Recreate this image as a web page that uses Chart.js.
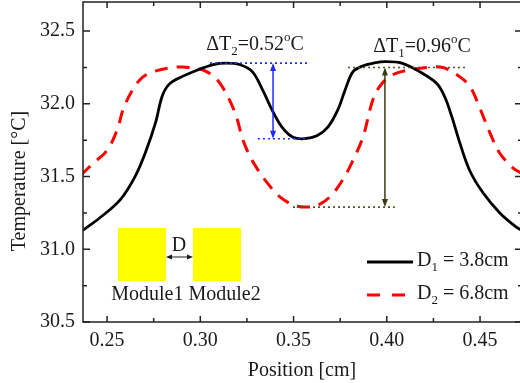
<!DOCTYPE html>
<html>
<head>
<meta charset="utf-8">
<script src="https://cdn.jsdelivr.net/npm/chart.js@4.4.1/dist/chart.umd.min.js"></script>
<style>
html, body { margin: 0; padding: 0; background: #fff; overflow: hidden; }
#wrap { width: 520px; height: 383px; overflow: hidden; }
canvas { display: block; }
</style>
</head>
<body>
<div id="wrap"><canvas id="temp-chart" width="524" height="383"></canvas></div>
<script>
// temperature profile along the position axis for two module spacings
const posD1 = [0.237, 0.246, 0.257, 0.265, 0.271, 0.276, 0.2795, 0.283, 0.289, 0.298, 0.307, 0.314, 0.321, 0.328,
    0.3336, 0.3384, 0.3438, 0.3497, 0.356, 0.3625, 0.3684, 0.3738, 0.3775, 0.3818, 0.387, 0.393, 0.399, 0.408,
    0.4177, 0.4268, 0.431, 0.4349, 0.4392, 0.4445, 0.4515, 0.4606, 0.4697, 0.4725]
const tempD1 = [31.13, 31.215, 31.34, 31.50, 31.68, 31.87, 32.05, 32.13, 32.18, 32.23, 32.27, 32.28, 32.27, 32.22,
    32.09, 31.96, 31.84, 31.77, 31.76, 31.78, 31.84, 31.96, 32.09, 32.22, 32.26, 32.28, 32.29, 32.28,
    32.22, 32.14, 32.05, 31.91, 31.73, 31.54, 31.39, 31.25, 31.15, 31.13]

const posD2 = [0.236, 0.2425, 0.25, 0.2554, 0.2586, 0.2634, 0.2688, 0.2747, 0.2854, 0.2945, 0.3036, 0.3106, 0.3186,
    0.3229, 0.3283, 0.3357, 0.3427, 0.3507, 0.3572, 0.3625, 0.3695, 0.3765, 0.3818, 0.3872, 0.3926, 0.3974,
    0.4033, 0.4108, 0.4215, 0.43, 0.4376, 0.4445, 0.4499, 0.4553, 0.4606, 0.4676, 0.4725]
const tempD2 = [31.51, 31.59, 31.68, 31.82, 31.96, 32.09, 32.18, 32.22, 32.25, 32.25, 32.22, 32.14, 31.94,
    31.75, 31.60, 31.46, 31.36, 31.30, 31.29, 31.30, 31.36, 31.48, 31.61, 31.77, 32.03, 32.14,
    32.20, 32.23, 32.25, 32.25, 32.20, 32.12, 31.97, 31.80, 31.66, 31.56, 31.52]

const xMajor = [0.25, 0.30, 0.35, 0.40, 0.45]
const xMinor = [0.275, 0.325, 0.375, 0.425]
const yMajor = [30.5, 31.0, 31.5, 32.0, 32.5]
const yMinor = [30.75, 31.25, 31.75, 32.25]

const legendLabels = [["D", "1", " = 3.8cm"], ["D", "2", " = 6.8cm"]]

// temperature differences: peak level and difference
const deltaT2 = { peak: 32.28, diff: 0.52, at: 0.339 }
const deltaT1 = { peak: 32.25, diff: 0.96, at: 0.399 }

const SERIF = "'Liberation Serif', 'Times New Roman', serif"
const INK = "#1a1a1a"

function font(size) {
    return `${size}px ${SERIF}`
}

// draws text with subscript (1) and superscript (2) parts
function richText(ctx, parts, x, y, size, align) {
    ctx.textBaseline = "middle"
    ctx.textAlign = "left"
    const widths = parts.map((p) => {
        ctx.font = font(p[1] ? size * 0.65 : size)
        return ctx.measureText(p[0]).width
    })
    const total = widths.reduce((a, b) => a + b, 0)
    let cx = align == "center" ? x - total / 2 : x
    parts.forEach((p, i) => {
        ctx.font = font(p[1] ? size * 0.65 : size)
        let dy = 0
        if (p[1] == 1) dy = size * 0.32
        if (p[1] == 2) dy = -size * 0.36
        ctx.fillText(p[0], cx, y + dy)
        cx += widths[i]
    })
}

function arrowHead(ctx, x, y, dir, len, half) {
    // dir: angle of arrow direction
    ctx.beginPath()
    ctx.moveTo(x, y)
    ctx.lineTo(x - len * Math.cos(dir) + half * Math.sin(dir), y - len * Math.sin(dir) - half * Math.cos(dir))
    ctx.lineTo(x - len * Math.cos(dir) - half * Math.sin(dir), y - len * Math.sin(dir) + half * Math.cos(dir))
    ctx.closePath()
    ctx.fill()
}

function dotted(ctx, x1, y1, x2, y2, color) {
    ctx.save()
    ctx.strokeStyle = color
    ctx.lineWidth = 1.6
    ctx.setLineDash([2, 3])
    ctx.beginPath()
    ctx.moveTo(x1, y1)
    ctx.lineTo(x2, y2)
    ctx.stroke()
    ctx.restore()
}

function doubleArrowV(ctx, x, y1, y2, color) {
    ctx.save()
    ctx.strokeStyle = color
    ctx.fillStyle = color
    ctx.lineWidth = 1.5
    ctx.beginPath()
    ctx.moveTo(x, y1 + 5)
    ctx.lineTo(x, y2 - 5)
    ctx.stroke()
    arrowHead(ctx, x, y1, -Math.PI / 2, 8, 3)
    arrowHead(ctx, x, y2, Math.PI / 2, 8, 3)
    ctx.restore()
}

// closed frame with inward ticks on all four sides
const frameTicks = {
    id: "frameTicks",
    afterDraw(chart) {
        const { ctx, chartArea: a, scales } = chart
        ctx.save()
        ctx.strokeStyle = "#222"
        ctx.lineWidth = 1.5
        ctx.strokeRect(a.left, a.top, a.right - a.left, a.bottom - a.top)
        ctx.beginPath()
        const xt = (vals, len) => vals.forEach((v) => {
            const px = scales.x.getPixelForValue(v)
            ctx.moveTo(px, a.bottom)
            ctx.lineTo(px, a.bottom - len)
            ctx.moveTo(px, a.top)
            ctx.lineTo(px, a.top + len)
        })
        const yt = (vals, len) => vals.forEach((v) => {
            const py = scales.y.getPixelForValue(v)
            ctx.moveTo(a.left, py)
            ctx.lineTo(a.left + len, py)
            ctx.moveTo(a.right, py)
            ctx.lineTo(a.right - len, py)
        })
        xt(xMajor, 6)
        xt(xMinor, 4)
        yt(yMajor, 7)
        yt(yMinor, 4)
        ctx.stroke()

        // axis titles
        ctx.fillStyle = INK
        ctx.font = font(20)
        ctx.textAlign = "center"
        ctx.textBaseline = "middle"
        ctx.fillText("Position [cm]", 302, 371)
        ctx.translate(20, 181)
        ctx.rotate(-Math.PI / 2)
        ctx.fillText("Temperature [°C]", 0, 0)
        ctx.restore()
    },
}

// difference arrows, module sketch and legend
const notes = {
    id: "notes",
    afterDatasetsDraw(chart) {
        const { ctx, chartArea: a, scales } = chart
        const X = (v) => scales.x.getPixelForValue(v)
        const Y = (v) => scales.y.getPixelForValue(v)
        ctx.save()

        // ΔT2
        const blue = "#1f2bff"
        const t2Top = Y(deltaT2.peak)
        const t2Bot = Y(deltaT2.peak - deltaT2.diff)
        dotted(ctx, X(0.3052), t2Top, X(0.3572), t2Top, blue)
        dotted(ctx, X(0.3309), t2Bot, X(0.3561), t2Bot, blue)
        doubleArrowV(ctx, X(deltaT2.at), t2Top, t2Bot, blue)

        // ΔT1
        const olive = "#55552a"
        const t1Top = Y(deltaT1.peak)
        const t1Bot = Y(deltaT1.peak - deltaT1.diff)
        dotted(ctx, X(0.3792), t1Top, X(0.4429), t1Top, olive)
        dotted(ctx, X(0.3497), t1Bot, X(0.4043), t1Bot, olive)
        doubleArrowV(ctx, X(deltaT1.at), t1Top, t1Bot, "#3a3a12")

        ctx.fillStyle = INK
        richText(ctx, [["ΔT", 0], ["2", 1], ["=" + deltaT2.diff.toFixed(2), 0], ["o", 2], ["C", 0]], 255, 45, 20, "center")
        richText(ctx, [["ΔT", 0], ["1", 1], ["=" + deltaT1.diff.toFixed(2), 0], ["o", 2], ["C", 0]], 422, 47, 20, "center")

        // module sketch
        ctx.fillStyle = "#ffff00"
        ctx.fillRect(a.left + 35, a.bottom - 94, 48, 53)
        ctx.fillRect(a.left + 110, a.bottom - 94, 48, 53)
        ctx.strokeStyle = INK
        ctx.fillStyle = INK
        ctx.lineWidth = 1
        ctx.beginPath()
        ctx.moveTo(a.left + 87, a.bottom - 65)
        ctx.lineTo(a.left + 106, a.bottom - 65)
        ctx.stroke()
        arrowHead(ctx, a.left + 83, a.bottom - 65, Math.PI, 6, 2.5)
        arrowHead(ctx, a.left + 110, a.bottom - 65, 0, 6, 2.5)
        ctx.font = font(20)
        ctx.textAlign = "center"
        ctx.textBaseline = "middle"
        ctx.fillText("D", a.left + 96, a.bottom - 76)
        ctx.fillText("Module1 Module2", a.left + 103, a.bottom - 27)

        // legend
        const lx = a.right - 155
        ctx.strokeStyle = "#000"
        ctx.lineWidth = 3
        ctx.beginPath()
        ctx.moveTo(lx, a.bottom - 60)
        ctx.lineTo(lx + 46, a.bottom - 60)
        ctx.stroke()
        ctx.strokeStyle = "#ff0000"
        ctx.setLineDash([13, 12])
        ctx.beginPath()
        ctx.moveTo(lx, a.bottom - 27)
        ctx.lineTo(lx + 40, a.bottom - 27)
        ctx.stroke()
        ctx.setLineDash([])
        ctx.fillStyle = INK
        richText(ctx, [[legendLabels[0][0], 0], [legendLabels[0][1], 1], [legendLabels[0][2], 0]], a.right - 105, a.bottom - 61, 20, "left")
        richText(ctx, [[legendLabels[1][0], 0], [legendLabels[1][1], 1], [legendLabels[1][2], 0]], a.right - 105, a.bottom - 28, 20, "left")
        ctx.restore()
    },
}

function toPoints(xs, ys) {
    return xs.map((x, i) => ({ x: x, y: ys[i] }))
}

const canvas = document.getElementById("temp-chart")
const chart = new Chart(canvas, {
    type: "scatter",
    data: {
        datasets: [
            {
                label: "D1 = 3.8cm",
                data: toPoints(posD1, tempD1),
                showLine: true,
                borderColor: "#000000",
                borderWidth: 2.8,
                pointRadius: 0,
                tension: 0.35,
            },
            {
                label: "D2 = 6.8cm",
                data: toPoints(posD2, tempD2),
                showLine: true,
                borderColor: "#ff0000",
                borderWidth: 3,
                borderDash: [13, 9],
                pointRadius: 0,
                tension: 0.35,
            },
        ],
    },
    options: {
        responsive: false,
        animation: false,
        layout: { padding: { top: 2, right: 2, left: 0, bottom: 0 } },
        plugins: {
            legend: { display: false },
            tooltip: { enabled: false },
        },
        scales: {
            x: {
                type: "linear",
                min: 0.2371,
                max: 0.4725,
                grid: { display: false, drawTicks: false },
                border: { display: false },
                afterBuildTicks: (s) => {
                    s.ticks = xMajor.map((v) => ({ value: v }))
                },
                afterFit: (s) => {
                    s.height = 61
                    s.paddingLeft = 0
                    s.paddingRight = 0
                },
                ticks: {
                    color: INK,
                    font: { family: SERIF, size: 20 },
                    padding: 7,
                    maxRotation: 0,
                    autoSkip: false,
                    callback: (v) => Number(v).toFixed(2),
                },
            },
            y: {
                min: 30.5,
                max: 32.7,
                grid: { display: false, drawTicks: false },
                border: { display: false },
                afterBuildTicks: (s) => {
                    s.ticks = yMajor.map((v) => ({ value: v }))
                },
                afterFit: (s) => {
                    s.width = 83
                    s.paddingTop = 0
                    s.paddingBottom = 0
                },
                ticks: {
                    color: INK,
                    font: { family: SERIF, size: 20 },
                    padding: 8,
                    autoSkip: false,
                    callback: (v) => Number(v).toFixed(1),
                },
            },
        },
    },
    plugins: [frameTicks, notes],
})
</script>
</body>
</html>
